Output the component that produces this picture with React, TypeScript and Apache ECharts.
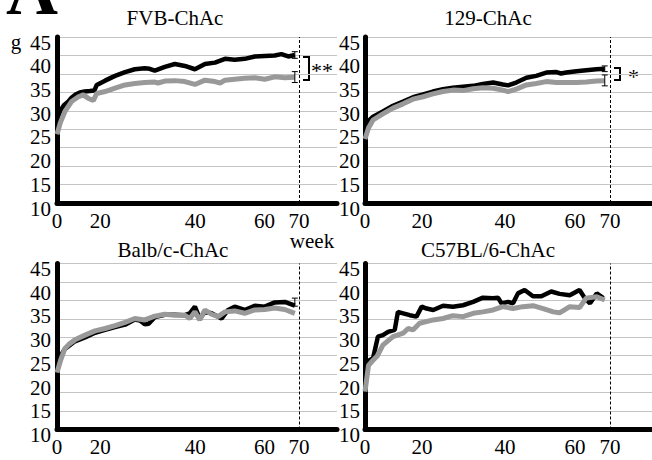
import React, { useEffect, useRef } from "react";
import * as echarts from "echarts";

const FONT = '"Liberation Serif", "Times New Roman", serif';

const panelTitles = ["FVB-ChAc", "129-ChAc", "Balb/c-ChAc", "C57BL/6-ChAc"];
const yTickMin = 10;
const yTickMax = 45;
const yTickStep = 5;
const xTickLabels = [0, 20, 40, 60, 70];
const cutoffWeek = 70;

// FVB-ChAc
const fvbBlack = [[0,27.5],[1,29.5],[2,30.6],[3.3,31.4],[4.2,32.2],[5.2,32.8],[6.6,33.3],[8,33.5],[9.5,33.6],[10.8,33.7],[11.5,34.9],[13.9,35.8],[16.8,36.8],[19.7,37.6],[22.5,38.2],[25.4,38.4],[26.8,38.3],[28.3,37.9],[31.2,38.7],[34.1,39.3],[37,38.9],[39.9,38.2],[42.8,39.3],[45.7,39.6],[48.6,40.4],[51.4,40.2],[54.3,40.4],[57.2,40.9],[60.1,41.0],[63,41.1],[64.9,41.4],[66.9,40.9],[68.8,41.2]];
const fvbGray = [[0,24.5],[1,27.0],[2.3,29.3],[4.2,31.4],[6.2,32.4],[7.6,32.8],[9,32.1],[10.5,31.6],[11.5,33.1],[13.9,33.5],[16.8,34.2],[19.7,34.9],[22.5,35.2],[25.4,35.4],[28.3,35.5],[29.2,35.3],[31.2,35.7],[34.1,35.8],[37,35.6],[39.9,35.0],[42.8,35.9],[45.7,35.6],[47.2,35.3],[48.6,35.9],[51.4,36.1],[54.3,36.3],[57.2,36.4],[60.1,36.1],[63,36.6],[65.9,36.4],[68.8,36.5]];
const fvbErr = [[68.8, 40.5, 41.9], [68.8, 35.4, 37.7]];

// 129-ChAc
const s129Black = [[0,26.0],[1,27.3],[2.3,28.2],[5.1,29.3],[8,30.5],[10.9,31.4],[13.7,32.3],[16.6,32.9],[19.4,33.5],[22.3,34.0],[25.1,34.3],[28,34.5],[30.9,34.7],[33.7,35.1],[36.6,35.4],[39.4,35.0],[40.9,34.8],[43.2,35.4],[46.1,36.4],[48.9,36.8],[51.8,37.5],[54.7,37.6],[56,37.3],[57.5,37.5],[60.4,37.8],[63.2,38.0],[66.1,38.2],[68.5,38.3]];
const s129Gray = [[0,23.5],[1,25.8],[2.3,27.5],[5.1,28.8],[8,30.0],[10.9,30.9],[13.7,31.9],[16.6,32.4],[19.4,33.0],[22.3,33.5],[25.1,33.8],[28,33.7],[30.9,34.1],[33.7,34.3],[36.6,34.2],[39.4,33.8],[40.9,33.5],[43.2,34.0],[46.1,34.9],[48.9,35.2],[51.8,35.6],[54.7,35.4],[57.5,35.4],[60.4,35.4],[63.2,35.5],[66.1,35.7],[68.5,35.8]];
const s129Err = [[68.5, 37.7, 38.9], [68.5, 34.7, 37.0]];

// Balb/c-ChAc
const balbBlack = [[0,23.5],[1,25.5],[2.3,27.0],[5.2,28.6],[8.1,29.4],[11,30.4],[13.9,31.0],[16.8,31.6],[19.7,32.1],[22.5,33.2],[24,33.0],[25.4,32.2],[26.5,32.3],[28.3,33.7],[31.2,34.2],[34.1,34.2],[37,34.1],[38.4,34.5],[39.9,35.9],[41.3,33.4],[42.8,34.8],[44.7,34.5],[47.6,33.4],[49.5,35.2],[51.4,35.9],[54.3,35.2],[57.2,36.1],[60.1,35.9],[63,36.8],[65.9,36.9],[68.8,36.1]];
const balbGray = [[0,22.0],[1,24.5],[2.3,27.1],[3.5,28.0],[5.2,28.9],[8.1,29.9],[11,30.8],[13.9,31.3],[16.8,31.9],[19.7,32.6],[22.5,33.4],[25.4,33.1],[28.3,33.9],[31.2,34.3],[34.1,34.1],[37,34.1],[38.4,33.4],[39.9,34.8],[41.3,33.1],[42.8,35.2],[44.7,34.3],[46.6,33.8],[48.6,34.8],[51.4,35.0],[54.3,34.5],[57.2,35.2],[60.1,35.3],[63,35.6],[65.9,35.3],[68.8,34.5]];
const balbErr = [[68.8, 36.0, 37.7]];

// C57BL/6-ChAc
const c57Black = [[0,24.0],[1,24.5],[2.3,25.0],[3.7,29.6],[5.1,29.9],[6.6,30.6],[8.5,31.0],[9.4,34.8],[10.9,34.5],[12.8,34.1],[14.7,33.8],[16.2,35.9],[17.6,35.5],[19.5,35.2],[22.3,36.1],[25.1,35.9],[28,36.2],[30.9,36.9],[33.7,37.8],[36.6,37.7],[38,37.8],[39,36.6],[40.9,36.9],[42.3,36.6],[43.7,38.7],[45.6,39.4],[48,38.1],[50.4,38.1],[53.2,39.1],[55.6,38.6],[58.5,38.3],[61.3,39.4],[62.8,37.7],[64.3,36.6],[66.2,38.7],[68.1,37.7]];
const c57Gray = [[0,18.0],[1,23.5],[2.3,24.6],[3.5,25.5],[5.1,27.8],[8,29.6],[10.9,30.3],[12.3,31.3],[13.7,31.0],[15.6,32.4],[19.5,33.1],[22.3,33.4],[25.1,34.0],[28,33.8],[30.9,34.5],[33.7,34.8],[36.6,35.2],[39.4,35.9],[42.3,35.5],[45.1,35.9],[48,36.1],[50.9,35.5],[53.8,34.8],[55.6,34.6],[58.5,35.9],[61.3,35.7],[63.2,37.7],[66.2,38.0],[68.5,37.3]];
const c57Err: number[][] = [];

const blackSeries = [fvbBlack, s129Black, balbBlack, c57Black];
const graySeries = [fvbGray, s129Gray, balbGray, c57Gray];
const errSeries = [fvbErr, s129Err, balbErr, c57Err];

export default function App() {
  const ref = useRef<HTMLDivElement>(null);
  useEffect(() => {
    if (!ref.current) return;
    const chart = echarts.init(ref.current, null, { renderer: "svg" });

    const grids = [
      { left: 57, top: 37, width: 280, height: 166 },
      { left: 365, top: 37, width: 287, height: 166 },
      { left: 57, top: 263.5, width: 280, height: 166 },
      { left: 365, top: 263.5, width: 287, height: 166 },
    ];
    const xMax = [81, 82, 81, 82];
    const shift20 = [52, 26, 52, 26];
    const titlePos = [[175, 18], [488, 18], [173, 250], [488, 250]];

    const xAxis: any[] = [];
    const yAxis: any[] = [];
    const series: any[] = [];

    grids.forEach((g, i) => {
      xAxis.push({
        type: "value",
        gridIndex: i,
        position: "bottom",
        min: 0,
        max: xMax[i],
        interval: 10,
        axisLine: { show: true, onZero: false, lineStyle: { color: "#000", width: 5 } },
        axisTick: { show: false },
        splitLine: { show: false },
        axisLabel: {
          show: true,
          color: "#000",
          fontFamily: FONT,
          fontSize: 21,
          margin: 7,
          showMaxLabel: false,
          formatter: (v: number) => {
            if (!xTickLabels.includes(v)) return "";
            return v === 20 ? "{s|20}" : String(v);
          },
          rich: {
            s: { fontFamily: FONT, fontSize: 21, color: "#000", padding: [0, shift20[i], 0, 0] },
          },
        },
      });
      // grid lines axis
      yAxis.push({
        type: "value",
        gridIndex: i,
        position: "left",
        min: 0,
        max: 9,
        interval: 1,
        axisLine: { show: false },
        axisTick: { show: false },
        axisLabel: { show: false },
        splitLine: { show: true, lineStyle: { color: "#c4c4c4", width: 1 } },
      });
      // main value axis
      yAxis.push({
        type: "value",
        gridIndex: i,
        position: "left",
        offset: 0,
        min: yTickMin,
        max: yTickMax,
        interval: yTickStep,
        axisLine: { show: true, onZero: false, lineStyle: { color: "#000", width: 5 } },
        axisTick: { show: false },
        splitLine: { show: false },
        axisLabel: {
          color: "#000",
          fontFamily: FONT,
          fontSize: 21,
          margin: i % 2 === 0 ? 6 : 5,
          verticalAlign: "top",
          lineHeight: 11,
        },
      });
      const yi = 2 * i + 1;
      series.push({
        type: "line",
        name: panelTitles[i] + " black",
        xAxisIndex: i,
        yAxisIndex: yi,
        data: blackSeries[i],
        showSymbol: false,
        symbol: "none",
        lineStyle: { color: "#000", width: 4.5 },
        z: 3,
        markLine: {
          silent: true,
          symbol: "none",
          label: { show: false },
          lineStyle: { color: "#000", width: 1, type: [3, 2] },
          data: [{ xAxis: cutoffWeek }],
        },
      });
      series.push({
        type: "line",
        name: panelTitles[i] + " gray",
        xAxisIndex: i,
        yAxisIndex: yi,
        data: graySeries[i],
        showSymbol: false,
        symbol: "none",
        lineStyle: { color: "#999999", width: 5 },
        z: 4,
      });
      if (errSeries[i].length) {
        series.push({
          type: "custom",
          xAxisIndex: i,
          yAxisIndex: yi,
          data: errSeries[i],
          encode: { x: 0, y: [1, 2] },
          z: 5,
          renderItem: (_p: any, api: any) => {
            const x = api.value(0);
            const p1 = api.coord([x, api.value(1)]);
            const p2 = api.coord([x, api.value(2)]);
            const c = 3;
            const st = { stroke: "#000", lineWidth: 1 };
            return {
              type: "group",
              children: [
                { type: "line", shape: { x1: p1[0], y1: p1[1], x2: p2[0], y2: p2[1] }, style: st },
                { type: "line", shape: { x1: p1[0] - c, y1: p1[1], x2: p1[0] + c, y2: p1[1] }, style: st },
                { type: "line", shape: { x1: p2[0] - c, y1: p2[1], x2: p2[0] + c, y2: p2[1] }, style: st },
              ],
            };
          },
        });
      }
    });

    const graphic: any[] = [
      ...panelTitles.map((t, i) => ({
        type: "text",
        x: titlePos[i][0],
        y: titlePos[i][1],
        style: { text: t, fontFamily: FONT, fontSize: 21, fill: "#000", textAlign: "center", textVerticalAlign: "middle" },
      })),
      { type: "text", x: 6, y: -10, style: { text: "A", fontFamily: FONT, fontSize: 72, fontWeight: "bold", fill: "#000", textAlign: "left", textVerticalAlign: "middle" } },
      { type: "text", x: 16, y: 42, style: { text: "g", fontFamily: FONT, fontSize: 21, fill: "#000", textAlign: "center", textVerticalAlign: "middle" } },
      { type: "text", x: 312, y: 241, style: { text: "week", fontFamily: FONT, fontSize: 21, fill: "#000", textAlign: "center", textVerticalAlign: "middle" } },
      { type: "polyline", shape: { points: [[303, 57], [309, 57], [309, 80], [303, 80]] }, style: { stroke: "#000", lineWidth: 2, fill: null } },
      { type: "text", x: 311, y: 70, style: { text: "**", fontFamily: FONT, fontSize: 22, fill: "#000", textAlign: "left", textVerticalAlign: "middle" } },
      { type: "polyline", shape: { points: [[614, 68], [620, 68], [620, 80], [614, 80]] }, style: { stroke: "#000", lineWidth: 2, fill: null } },
      { type: "text", x: 628, y: 76, style: { text: "*", fontFamily: FONT, fontSize: 22, fill: "#000", textAlign: "left", textVerticalAlign: "middle" } },
    ];

    chart.setOption({
      animation: false,
      backgroundColor: "#fff",
      grid: grids,
      xAxis,
      yAxis,
      series,
      graphic,
    });
    return () => chart.dispose();
  }, []);
  return <div ref={ref} style={{ position: "fixed", left: 0, top: 0, width: 652, height: 460 }} />;
}
